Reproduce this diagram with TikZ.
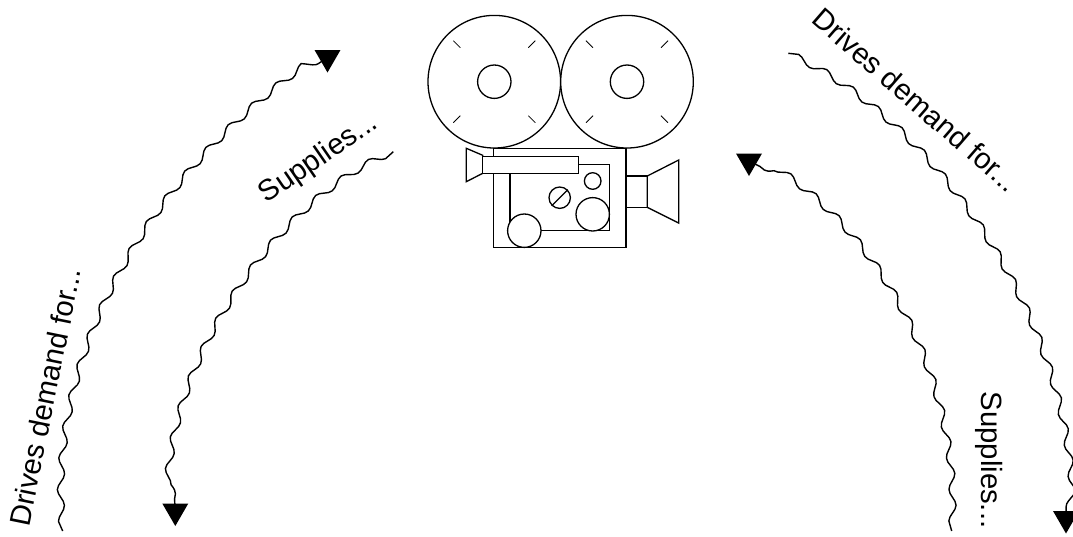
\documentclass[tikz,border=0pt]{standalone}
\usepackage{fontspec}
\setmainfont{Liberation Sans}
\usetikzlibrary{decorations.pathmorphing,shapes.geometric}
\tikzset{
  part/.style={draw=black,line width=1.3pt,fill=white},
  tick/.style={draw=black,line width=0.8pt},
  wave/.style={draw=black,line width=1.4pt,decorate,decoration={snake,segment length=#1,amplitude=3.4pt}},
  tip/.style={regular polygon,regular polygon sides=3,shape border rotate=180,fill=black,draw=none,minimum size=30pt,inner sep=0pt},
  lab/.style={font=\fontsize{29.3}{31}\selectfont,inner sep=0pt}
}
\begin{document}
\begin{tikzpicture}[x=1pt,y=-1pt]
\useasboundingbox (0,0) rectangle (1073,536);
% camera
\draw[part] (466.3,148.3) -- (482.7,155.3) -- (482.7,173.3) -- (466.3,181.7) -- cycle;
\node[part,minimum width=132.7pt,minimum height=99pt,inner sep=0pt] (body) at (559.7,197.8) {};
\draw[part,fill=none] (510,173.3) -- (510,230.7) -- (609.3,230.7) -- (609.3,164.3) -- (578.3,164.3);
\node[part,minimum width=95.6pt,minimum height=16.6pt,inner sep=0pt] (finder) at (530.5,165) {};
\draw[part] (626,176) rectangle (647.3,207.3);
\draw[part] (647.3,176) -- (678.7,160) -- (678.7,223) -- (647.3,207.3) -- cycle;
\node[part,circle,minimum size=132.6pt,inner sep=0pt] (reelA) at (494.3,81.7) {};
\node[part,circle,minimum size=132.6pt,inner sep=0pt] (reelB) at (627,81.7) {};
\node[part,circle,minimum size=33.4pt,inner sep=0pt] (hubA) at (494.3,81.7) {};
\node[part,circle,minimum size=33.4pt,inner sep=0pt] (hubB) at (627,81.7) {};
\foreach \c in {reelA,reelB}{
  \draw[tick] (\c.center) ++(-41,-41) -- ++(7,7);
  \draw[tick] (\c.center) ++(41,-41) -- ++(-7,7);
  \draw[tick] (\c.center) ++(-41,41) -- ++(7,-7);
  \draw[tick] (\c.center) ++(41,41) -- ++(-7,-7);
}
\node[part,circle,minimum size=16.6pt,inner sep=0pt] (dial) at (592.7,181) {};
\node[part,circle,minimum size=33.4pt,inner sep=0pt] (knob) at (592.7,214.3) {};
\node[part,circle,minimum size=33.4pt,inner sep=0pt] (wheel) at (524.3,230.7) {};
\node[part,circle,minimum size=21.4pt,inner sep=0pt] (screw) at (559.7,197.7) {};
\draw[tick,line width=1.2pt] (screw.225) -- (screw.45);
% free ends and arrow tips
\node[tip] (t1) at (327.5,57.5) {};
\node[tip] (t2) at (175.3,511) {};
\node[tip] (t3) at (749,161) {};
\node[tip] (t4) at (1066,518.5) {};
\coordinate (s1) at (62.7,531);
\coordinate (s2) at (393.3,151.7);
\coordinate (s3) at (788.3,53.3);
\coordinate (s4) at (951.7,531);
% waves
\draw[wave=31.6pt] (s1) .. controls (50,380) and (130,190) .. (t1.center);
\draw[wave=31.6pt] (s2) .. controls (280,200) and (165,370) .. (t2.center);
\draw[wave=31.55pt] (s3) .. controls (930,120) and (1070,320) .. (t4.center);
\draw[wave=31.7pt] (s4) .. controls (960,380) and (870,220) .. (t3.center);
% labels
\node[lab,rotate=78.5] (l1) at (45,397) {Drives demand for...};
\node[lab,rotate=34.5] (l2) at (319,159) {Supplies...};
\node[lab,rotate=-41] (l3) at (916,100) {Drives demand for...};
\node[lab,rotate=-90] (l4) at (989,460) {Supplies...};
\end{tikzpicture}
\end{document}
